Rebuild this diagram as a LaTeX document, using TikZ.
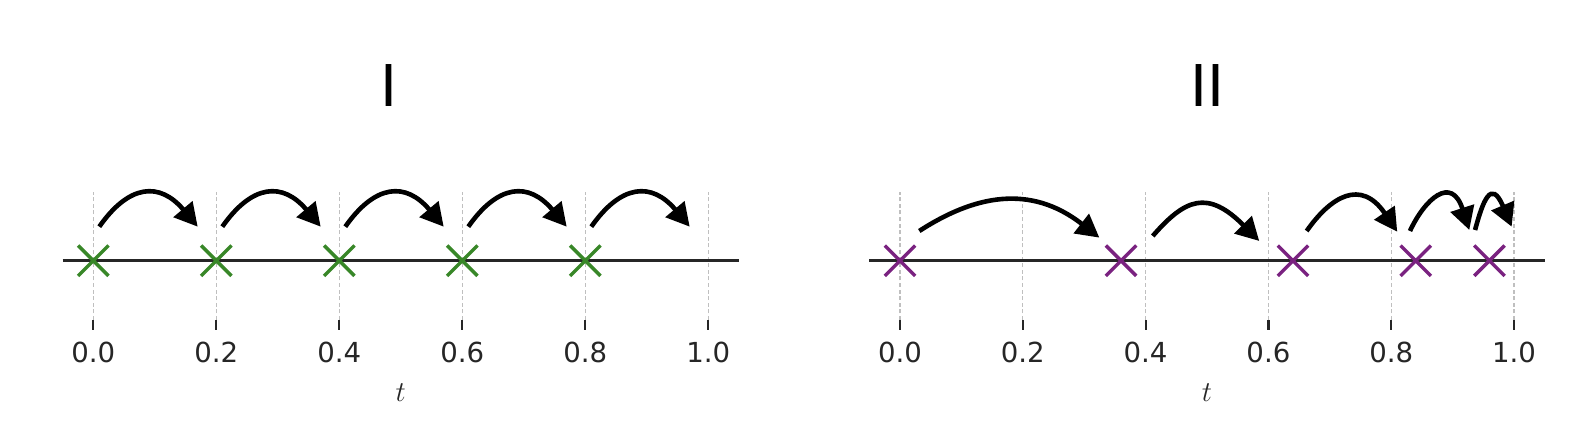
\documentclass[tikz,border=0pt]{standalone}
\usepackage{fontspec}
\setmainfont{DejaVu Sans}
\usepackage{xcolor}
\usepackage{tikz}
\usetikzlibrary{arrows.meta,shapes.misc}
\definecolor{markgreen}{RGB}{56,135,40}
\definecolor{markpurple}{RGB}{122,34,128}
\tikzset{
  timeline/.style={draw=black!85,line width=1.35pt},
  gridrule/.style={draw=black!25,line width=0.55pt,dash pattern=on 2pt off 1.3pt},
  tickmark/.style={draw=black!85,line width=1.1pt},
  ticklabel/.style={font=\fontsize{13.8}{15}\selectfont,text=black!85,inner sep=0pt},
  axislabel/.style={font=\fontsize{14.3}{16}\selectfont,text=black!85,inner sep=0pt},
  paneltitle/.style={font=\fontsize{28.8}{32}\selectfont,inner sep=0pt},
  stepmark/.style={cross out,draw,line width=1.7pt,minimum size=13.5pt,inner sep=0pt},
  hop/.style={-{Triangle[length=11.5pt,width=12pt]},shorten >=-11.5pt,line width=2.3pt,draw=black}
}
\begin{document}
\begin{tikzpicture}[x=0.5pt,y=0.5pt]
\useasboundingbox (0,0) rectangle (1592,448);
% panel I: uniform steps
\begin{scope}[shift={(93.3,187.3)},x=307.5pt]
\foreach \t/\lab in {0/0.0,0.2/0.2,0.4/0.4,0.6/0.6,0.8/0.8,1/1.0}{
  \draw[gridrule] (\t,-59.3) -- (\t,68.7);
  \draw[tickmark] (\t,-59.3) -- (\t,-69.3);
  \node[ticklabel] (la\lab) at (\t,-92) {\lab};
}
\draw[timeline] (-0.05,0) -- (1.05,0);
\foreach \i/\t in {0/0,1/0.2,2/0.4,3/0.6,4/0.8}
  \node[stepmark,draw=markgreen] (a\i) at (\t,0) {};
\coordinate (aend) at (1,0);
\foreach \i/\j in {0/1,1/2,2/3,3/4,4/end}
  \draw[hop] ([shift={(3pt,17pt)}]a\i.center) .. controls +(14.9pt,21.3pt) and +(-11.6pt,13.8pt) .. ([shift={(-16.7pt,25.8pt)}]a\j.center);
\node[axislabel] (ta) at (0.5,-132.3) {$t$};
\node[paneltitle] (titlea) at (0.48,174.9) {I};
\end{scope}
% panel II: shrinking steps
\begin{scope}[shift={(900,187.3)},x=307pt]
\foreach \t/\lab in {0/0.0,0.2/0.2,0.4/0.4,0.6/0.6,0.8/0.8,1/1.0}{
  \draw[gridrule] (\t,-59.3) -- (\t,68.7);
  \draw[tickmark] (\t,-59.3) -- (\t,-69.3);
  \node[ticklabel] (lb\lab) at (\t,-92) {\lab};
}
\draw[timeline] (-0.05,0) -- (1.05,0);
\foreach \i/\t in {0/0,1/0.36,2/0.64,3/0.84,4/0.96}
  \node[stepmark,draw=markpurple] (b\i) at (\t,0) {};
\coordinate (bend) at (1,0);
\draw[hop] ([shift={(9.65pt,14.85pt)}]b0.center) .. controls +(27.3pt,17.7pt) and +(-25.6pt,20pt) .. ([shift={(-19.9pt,18.6pt)}]b1.center);
\draw[hop] ([shift={(15.85pt,12.35pt)}]b1.center) .. controls +(16.3pt,18.8pt) and +(-17.6pt,17.6pt) .. ([shift={(-25pt,18pt)}]b2.center);
\draw[hop] ([shift={(6.85pt,14.85pt)}]b2.center) .. controls +(12pt,17.1pt) and +(-11.7pt,17.3pt) .. ([shift={(-15.7pt,24pt)}]b3.center);
\draw[hop] ([shift={(-2.9pt,14.85pt)}]b3.center) .. controls +(7.4pt,15.9pt) and +(-5.4pt,16.7pt) .. ([shift={(-13.6pt,26.3pt)}]b4.center);
\draw[hop] ([shift={(-7.2pt,15.35pt)}]b4.center) .. controls +(3.9pt,14.4pt) and +(-5.8pt,13.7pt) .. ([shift={(-5.65pt,27.6pt)}]bend.center);
\node[axislabel] (tb) at (0.5,-132.3) {$t$};
\node[paneltitle] (titleb) at (0.5,174.9) {II};
\end{scope}
\end{tikzpicture}
\end{document}
